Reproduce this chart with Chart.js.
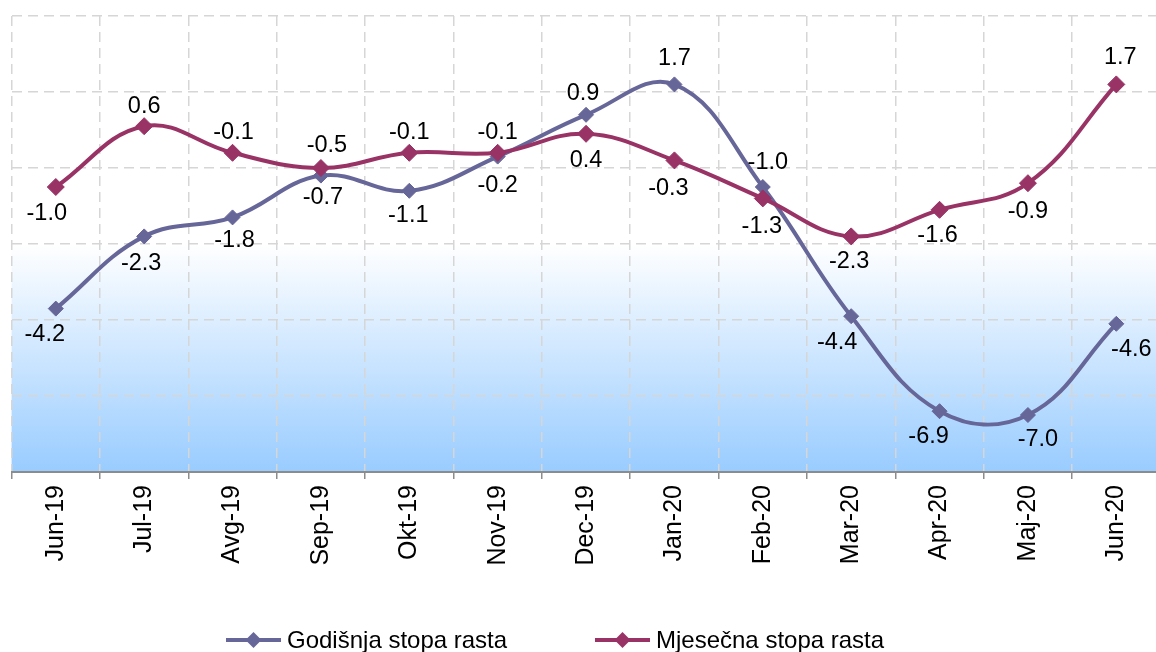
<!DOCTYPE html>
<html lang="bs">
<head>
<meta charset="UTF-8">
<title>Godišnja i mjesečna stopa rasta</title>
<style>
  html, body { margin: 0; padding: 0; background: #fff; overflow: hidden; }
  #wrap { width: 1156px; height: 652px; overflow: hidden; }
</style>
<script src="https://cdn.jsdelivr.net/npm/chart.js"></script>
</head>
<body>
<div id="wrap"><canvas id="chart" width="1170" height="652"></canvas></div>
<script>
const months = ['Jun-19', 'Jul-19', 'Avg-19', 'Sep-19', 'Okt-19', 'Nov-19', 'Dec-19',
                'Jan-20', 'Feb-20', 'Mar-20', 'Apr-20', 'Maj-20', 'Jun-20'];
const godisnja = [-4.2, -2.3, -1.8, -0.7, -1.1, -0.2, 0.9, 1.7, -1.0, -4.4, -6.9, -7.0, -4.6];
const mjesecna = [-1.0, 0.6, -0.1, -0.5, -0.1, -0.1, 0.4, -0.3, -1.3, -2.3, -1.6, -0.9, 1.7];

const yMin = -8.5, yMax = 3.5, yStep = 2;

// where each value label sits relative to its marker (dx, dy)
const godisnjaLabelPos = [[-11, 26], [-3, 27], [2, 23], [2, 22], [-1, 25], [0, 29], [-3, -21],
                          [0, -26], [5, -24], [-14, 26], [-11, 25], [10, 25], [15, 26]];
const mjesecnaLabelPos = [[-9, 27], [0, -20], [1, -20], [6, -22], [0, -20], [0, -20], [0, 27],
                          [-6, 28], [-1, 28], [-2, 25], [-2, 26], [0, 28], [4, -27]];

const FONT = "'Liberation Sans', Arial, sans-serif";
const BLUE = '#666699';
const RED = '#993366';

// plot area: white top half fading into light blue
const bgPlugin = {
    id: 'bg',
    beforeDraw(chart) {
        const { ctx, chartArea: a } = chart;
        const g = ctx.createLinearGradient(0, a.top, 0, a.bottom);
        g.addColorStop(0, '#ffffff');
        g.addColorStop(0.5, '#ffffff');
        g.addColorStop(1, '#99ccff');
        ctx.save();
        ctx.fillStyle = g;
        ctx.fillRect(a.left, a.top, a.right - a.left, a.bottom - a.top);
        ctx.restore();
    }
};

const valueLabels = {
    id: 'valueLabels',
    afterDatasetsDraw(chart) {
        const ctx = chart.ctx;
        ctx.save();
        ctx.font = '23.5px ' + FONT;
        ctx.fillStyle = '#000';
        ctx.textAlign = 'center';
        ctx.textBaseline = 'middle';
        chart.data.datasets.forEach((ds, i) => {
            const meta = chart.getDatasetMeta(i);
            meta.data.forEach((pt, j) => {
                const off = ds.labelPos[j];
                ctx.fillText(ds.data[j].toFixed(1), pt.x + off[0], pt.y + off[1]);
            });
        });
        ctx.restore();
    }
};

// legend drawn as line + diamond + text, like the original
const legendX = [226, 595];
const legendY = 640;
const lineLegend = {
    id: 'lineLegend',
    afterDraw(chart) {
        const ctx = chart.ctx;
        ctx.save();
        ctx.font = '24px ' + FONT;
        ctx.textBaseline = 'alphabetic';
        ctx.textAlign = 'left';
        chart.data.datasets.forEach((ds, i) => {
            const x = legendX[i];
            ctx.strokeStyle = ds.borderColor;
            ctx.lineWidth = 4;
            ctx.beginPath();
            ctx.moveTo(x, legendY);
            ctx.lineTo(x + 55, legendY);
            ctx.stroke();
            const r = 8;
            const cx = x + 27.5;
            ctx.fillStyle = ds.borderColor;
            ctx.beginPath();
            ctx.moveTo(cx, legendY - r);
            ctx.lineTo(cx + r, legendY);
            ctx.lineTo(cx, legendY + r);
            ctx.lineTo(cx - r, legendY);
            ctx.closePath();
            ctx.fill();
            ctx.fillStyle = '#000';
            ctx.fillText(ds.label, x + 61, legendY + 8);
        });
        ctx.restore();
    }
};

const ctx = document.getElementById('chart').getContext('2d');
const chart = new Chart(ctx, {
    type: 'line',
    data: {
        labels: months,
        datasets: [{
            label: 'Godišnja stopa rasta',
            data: godisnja,
            labelPos: godisnjaLabelPos,
            borderColor: BLUE,
            backgroundColor: BLUE,
            borderWidth: 4,
            pointStyle: 'rectRot',
            pointRadius: 7.5,
            pointBorderWidth: 1,
            pointBackgroundColor: BLUE,
            pointBorderColor: BLUE,
            tension: 0.4,
            fill: false,
            order: 2
        }, {
            label: 'Mjesečna stopa rasta',
            data: mjesecna,
            labelPos: mjesecnaLabelPos,
            borderColor: RED,
            backgroundColor: RED,
            borderWidth: 4,
            pointStyle: 'rectRot',
            pointRadius: 8.5,
            pointBorderWidth: 1,
            pointBackgroundColor: RED,
            pointBorderColor: RED,
            tension: 0.4,
            fill: false,
            order: 1
        }]
    },
    options: {
        responsive: false,
        devicePixelRatio: 1,
        animation: false,
        layout: { padding: { left: 11.6, right: 3.3, top: 16, bottom: 0 } },
        plugins: {
            legend: { display: false },
            tooltip: { enabled: false }
        },
        scales: {
            x: {
                offset: true,
                grid: {
                    offset: true,
                    color: '#d6d6d6',
                    lineWidth: 1.5,
                    tickColor: '#8c8c8c',
                    tickLength: 7,
                    tickWidth: 1.5,
                    tickBorderDash: []
                },
                border: { display: true, color: '#8c8c8c', width: 2, dash: [10, 6] },
                ticks: {
                    color: '#000',
                    font: { family: FONT, size: 25 },
                    minRotation: 90,
                    maxRotation: 90,
                    padding: 6,
                    autoSkip: false
                },
                afterFit(scale) { scale.height = 180; }
            },
            y: {
                min: yMin,
                max: yMax,
                ticks: { stepSize: yStep, display: false },
                grid: { color: '#d6d6d6', lineWidth: 1.5, drawTicks: false },
                border: { display: false, dash: [10, 6] }
            }
        }
    },
    plugins: [bgPlugin, valueLabels, lineLegend]
});
</script>
</body>
</html>
